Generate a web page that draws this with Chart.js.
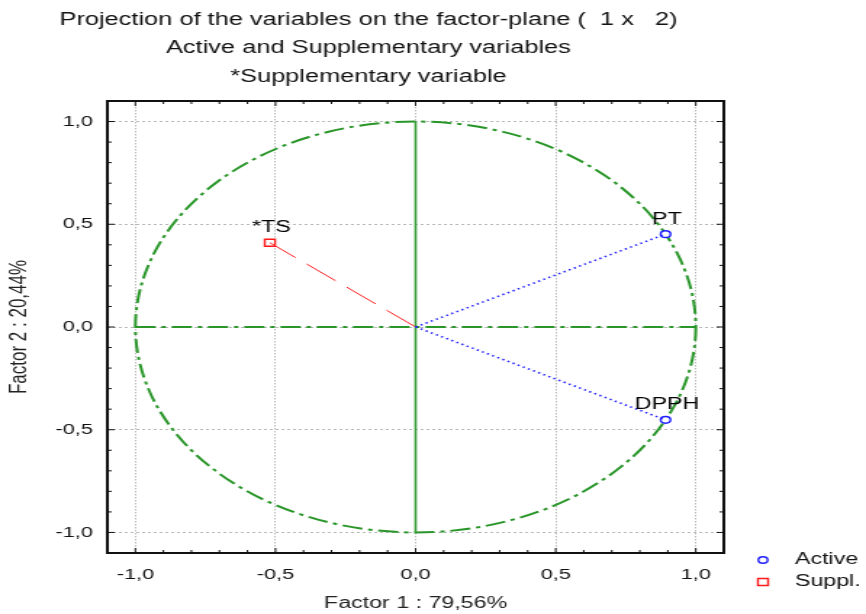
<!DOCTYPE html>
<html>
<head>
<meta charset="utf-8">
<title>Projection of the variables on the factor-plane</title>
<script src="https://cdn.jsdelivr.net/npm/chart.js@4.4.1/dist/chart.umd.min.js"></script>
<style>
  body { margin: 0; background: #fff; }
</style>
</head>
<body>
<!-- the original picture is stretched sideways, so the canvas is too -->
<canvas id="chart" width="597" height="614" style="display:block;width:866px;height:614px;"></canvas>
<script>
'use strict';

let variableNames = ['PT', 'DPPH', '*TS'];
let factor1 = [0.892, 0.892, -0.52];
let factor2 = [0.452, -0.452, 0.41];
let variableType = ['Active', 'Active', 'Suppl.'];
let legendGroups = ['Active', 'Suppl.'];
let axisTicks = [-1.0, -0.5, 0.0, 0.5, 1.0];
let titleLines = [
  'Projection of the variables on the factor-plane (  1 x   2)',
  'Active and Supplementary variables',
  '*Supplementary variable'
];
let xTitle = 'Factor 1 : 79,56%';
let yTitle = 'Factor 2 : 20,44%';

let blue = '#1f1fff';
let red = '#ff1a1a';
let green = '#2a962a';
let fontName = '"Liberation Sans", Arial, sans-serif';

Chart.defaults.font.family = fontName;
Chart.defaults.color = '#111';

let datasets = [];

// vectors from the origin
for (let i = 0; i < variableNames.length; i++) {
  let active = variableType[i] === 'Active';
  datasets.push({
    type: 'line',
    label: variableNames[i],
    data: [{ x: 0, y: 0 }, { x: factor1[i], y: factor2[i] }],
    borderColor: active ? blue : red,
    borderWidth: active ? 1.6 : 1,
    borderDash: active ? [1.4, 2.6] : [26, 10],
    pointRadius: 0,
    fill: false,
    isVector: true
  });
}

// the markers, one dataset per legend group
for (let g = 0; g < legendGroups.length; g++) {
  let pts = [];
  for (let i = 0; i < variableNames.length; i++) {
    if (variableType[i] === legendGroups[g]) {
      pts.push({ x: factor1[i], y: factor2[i], name: variableNames[i] });
    }
  }
  let active = legendGroups[g] === 'Active';
  datasets.push({
    type: 'scatter',
    label: legendGroups[g],
    data: pts,
    pointStyle: active ? 'circle' : 'rect',
    pointRadius: active ? 3.4 : 5,
    pointBorderWidth: 1.4,
    pointBorderColor: active ? blue : red,
    pointBackgroundColor: '#fff',
    isMarker: true
  });
}

function commaLabel(v) {
  return v.toFixed(1).replace('.', ',');
}

let factorPlane = {
  id: 'factorPlane',
  beforeDatasetsDraw(chart) {
    let ctx = chart.ctx;
    let xs = chart.scales.x;
    let ys = chart.scales.y;
    let cx = xs.getPixelForValue(0);
    let cy = ys.getPixelForValue(0);
    let rx = xs.getPixelForValue(1) - cx;
    let ry = cy - ys.getPixelForValue(1);
    ctx.save();
    ctx.strokeStyle = green;
    ctx.lineWidth = 2;
    ctx.setLineDash([14, 4, 3, 4]);
    ctx.beginPath();
    ctx.ellipse(cx, cy, rx, ry, 0, 0, Math.PI * 2);
    ctx.stroke();
    ctx.beginPath();
    ctx.moveTo(xs.getPixelForValue(-1), cy);
    ctx.lineTo(xs.getPixelForValue(1), cy);
    ctx.stroke();
    ctx.setLineDash([]);
    ctx.lineWidth = 1.6;
    ctx.beginPath();
    ctx.moveTo(cx, ys.getPixelForValue(1));
    ctx.lineTo(cx, ys.getPixelForValue(-1));
    ctx.stroke();
    ctx.restore();
  },
  afterDatasetsDraw(chart) {
    let ctx = chart.ctx;
    ctx.save();
    ctx.font = '16px ' + fontName;
    ctx.fillStyle = '#000';
    ctx.textAlign = 'center';
    ctx.textBaseline = 'middle';
    chart.data.datasets.forEach((ds, i) => {
      if (!ds.isMarker) return;
      let meta = chart.getDatasetMeta(i);
      meta.data.forEach((pt, j) => {
        ctx.fillText(ds.data[j].name, pt.x + 1, pt.y - 15);
      });
    });
    ctx.restore();
  },
  afterDraw(chart) {
    let ctx = chart.ctx;
    let area = chart.chartArea;
    let xs = chart.scales.x;
    let ys = chart.scales.y;
    ctx.save();

    // frame with inward ticks
    ctx.strokeStyle = '#111';
    ctx.lineWidth = 2;
    ctx.strokeRect(area.left, area.top, area.right - area.left, area.bottom - area.top);
    ctx.lineWidth = 1;
    ctx.beginPath();
    for (let k = -10; k <= 10; k++) {
      let len = k % 5 === 0 ? 5 : 3;
      let px = xs.getPixelForValue(k / 10);
      let py = ys.getPixelForValue(k / 10);
      ctx.moveTo(px, area.bottom);
      ctx.lineTo(px, area.bottom - len);
      ctx.moveTo(px, area.top);
      ctx.lineTo(px, area.top + len);
      ctx.moveTo(area.left, py);
      ctx.lineTo(area.left + len, py);
      ctx.moveTo(area.right, py);
      ctx.lineTo(area.right - len, py);
    }
    ctx.stroke();

    // titles
    ctx.fillStyle = '#111';
    ctx.textAlign = 'center';
    ctx.textBaseline = 'middle';
    ctx.font = '17.5px ' + fontName;
    for (let i = 0; i < titleLines.length; i++) {
      ctx.fillText(titleLines[i], 254, 20 + i * 28.5);
    }

    // legend, bottom right
    ctx.font = '16px ' + fontName;
    ctx.textAlign = 'left';
    let row = 0;
    chart.data.datasets.forEach((ds) => {
      if (!ds.isMarker) return;
      let y = 560 + row * 22;
      ctx.strokeStyle = ds.pointBorderColor;
      ctx.lineWidth = 1.4;
      ctx.beginPath();
      if (ds.pointStyle === 'circle') {
        ctx.arc(526, y, 3.2, 0, Math.PI * 2);
      } else {
        ctx.rect(522.5, y - 3.5, 7, 7);
      }
      ctx.stroke();
      ctx.fillStyle = '#111';
      ctx.fillText(ds.label, 548, y);
      row++;
    });
    ctx.restore();
  }
};

let ctx = document.getElementById('chart');

new Chart(ctx, {
  type: 'scatter',
  data: { datasets: datasets },
  options: {
    responsive: false,
    devicePixelRatio: 1,
    animation: false,
    events: [],
    layout: { padding: { left: 0, top: 101, right: 98, bottom: 0 } },
    plugins: {
      legend: { display: false },
      tooltip: { enabled: false }
    },
    scales: {
      x: {
        type: 'linear',
        min: -1.1,
        max: 1.1,
        afterFit: (scale) => { scale.height = 61; },
        afterBuildTicks: (scale) => { scale.ticks = axisTicks.map((v) => ({ value: v })); },
        ticks: {
          padding: 13,
          font: { size: 15 },
          color: '#111',
          callback: (v) => commaLabel(v)
        },
        grid: { color: '#b8b8b8', lineWidth: 1, drawTicks: false },
        border: { display: false, dash: [1.5, 1.5] },
        title: {
          display: true,
          text: xTitle,
          font: { size: 16 },
          color: '#222',
          padding: { top: 0, bottom: 1 }
        }
      },
      y: {
        type: 'linear',
        min: -1.1,
        max: 1.1,
        afterFit: (scale) => { scale.width = 74; },
        afterBuildTicks: (scale) => { scale.ticks = axisTicks.map((v) => ({ value: v })); },
        ticks: {
          padding: 10,
          font: { size: 15 },
          color: '#111',
          callback: (v) => commaLabel(v)
        },
        grid: { color: '#b8b8b8', lineWidth: 1, drawTicks: false },
        border: { display: false, dash: [2, 2] },
        title: {
          display: true,
          text: yTitle,
          font: { size: 17 },
          color: '#222',
          padding: { top: 3, bottom: 0 }
        }
      }
    }
  },
  plugins: [factorPlane]
});
</script>
</body>
</html>
